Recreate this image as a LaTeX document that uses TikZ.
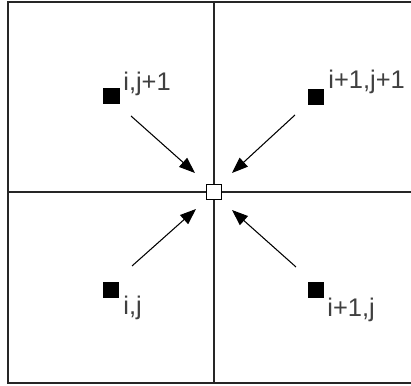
\documentclass[tikz,border=0pt]{standalone}
\usepackage{fontspec}
\setmainfont{Liberation Sans}
\usetikzlibrary{arrows.meta, positioning}
\tikzset{
    % Grid points - black filled squares
    grid point/.style={rectangle, draw=black, fill=black, minimum size=0.31cm, inner sep=0pt},
    % Interpolated point - white square
    interp point/.style={rectangle, draw=black, fill=white, line width=0.8pt, minimum size=0.31cm, inner sep=0pt},
    % Index labels - gray text
    index label/.style={anchor=base west, inner sep=0pt, text=black!75, font=\fontsize{14.5}{17}\selectfont},
    % Contribution arrows - thin with filled head
    weight arrow/.style={-{Triangle[length=0.32cm, width=0.24cm]}, line width=0.6pt},
    % Cell lines
    cell line/.style={line width=1pt, black!85}
}

\begin{document}
\begin{tikzpicture}
    % --- Canvas ---
    \clip (-4.28,-3.88) rectangle (3.94,3.84);
    \draw[cell line] (-4.12,-3.82) rectangle (4.05,3.80);
    \draw[cell line] (0,3.80) -- (0,-3.82);
    \draw[cell line] (-4.12,0) -- (4.05,0);

    % --- Grid points ---
    \node[grid point] (p01) at (-2.05, 1.92) {};
    \node[grid point] (p11) at ( 2.04, 1.90) {};
    \node[grid point] (p00) at (-2.06,-1.96) {};
    \node[grid point] (p10) at ( 2.04,-1.96) {};

    % --- Labels ---
    \node[index label] (l01) at (-1.82, 2.02) {i,j+1};
    \node[index label] (l11) at ( 2.28, 2.06) {i+1,j+1};
    \node[index label] (l00) at (-1.82,-2.46) {i,j};
    \node[index label] (l10) at ( 2.26,-2.50) {i+1,j};

    % --- Interpolated point ---
    \node[interp point] (c) at (0,0) {};

    % --- Arrow ends ---
    \coordinate (a01) at (-1.66, 1.52);
    \coordinate (b01) at (-0.38, 0.38);
    \coordinate (a11) at ( 1.62, 1.54);
    \coordinate (b11) at ( 0.36, 0.38);
    \coordinate (a00) at (-1.64,-1.48);
    \coordinate (b00) at (-0.36,-0.34);
    \coordinate (a10) at ( 1.64,-1.50);
    \coordinate (b10) at ( 0.36,-0.36);

    % --- Contributions ---
    \draw[weight arrow] (a01) -- (b01);
    \draw[weight arrow] (a11) -- (b11);
    \draw[weight arrow] (a00) -- (b00);
    \draw[weight arrow] (a10) -- (b10);
\end{tikzpicture}
\end{document}
